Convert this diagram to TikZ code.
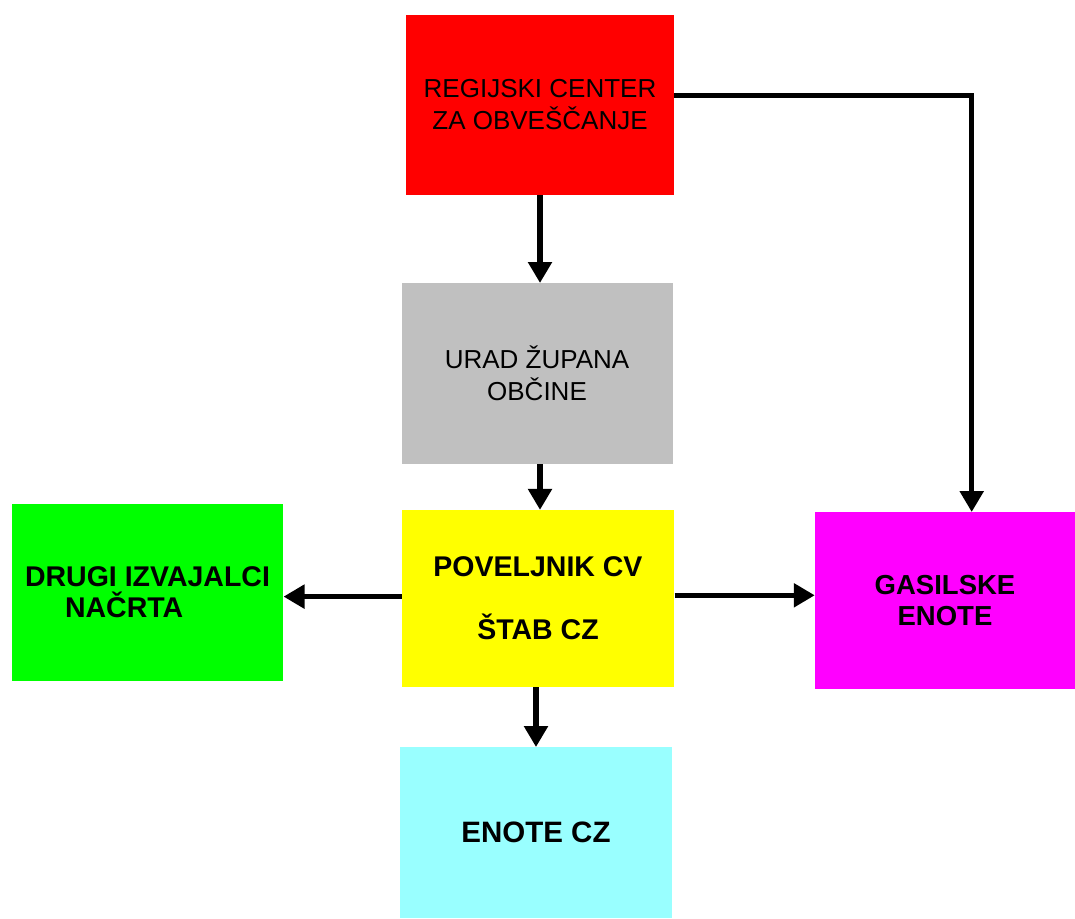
\documentclass[tikz,border=0pt]{standalone}
\usepackage{fontspec}
\setmainfont{Liberation Sans}
\usetikzlibrary{arrows.meta}
\definecolor{cred}{HTML}{FF0000}
\definecolor{cgray}{HTML}{C0C0C0}
\definecolor{cyel}{HTML}{FFFF00}
\definecolor{cgreen}{HTML}{00FF00}
\definecolor{cmag}{HTML}{FF00FF}
\definecolor{ccyan}{HTML}{99FFFF}
\begin{document}
\begin{tikzpicture}[x=1pt,y=-1pt,
  box/.style={draw=none, inner sep=0pt, align=center, text=black},
  reg/.style={font=\fontsize{26}{32}\selectfont},
  bld/.style={font=\bfseries\fontsize{28.5}{31.3}\selectfont},
  conn/.style={line width=5.5pt, -{Triangle[length=21pt,width=23pt]}}]
\useasboundingbox[fill=white] (0,0) rectangle (1075,918);
\node[box, reg, fill=cred, minimum width=268pt, minimum height=180pt] (red) at (540,105) {REGIJSKI CENTER\\ZA OBVEŠČANJE};
\node[box, reg, fill=cgray, minimum width=271pt, minimum height=181pt] (gray) at (537,373.7) {URAD ŽUPANA\\OBČINE};
\node[box, fill=cyel, minimum width=272.6pt, minimum height=177pt, font=\bfseries\fontsize{28.5}{63}\selectfont] (yel) at (538,598.6) {POVELJNIK CV\\ŠTAB CZ};
\node[box, bld, fill=cgreen, minimum width=271.6pt, minimum height=176.7pt, align=left] (green) at (147.5,592.3) {DRUGI IZVAJALCI\\\hspace*{40pt}NAČRTA};
\node[box, fill=cmag, minimum width=260pt, minimum height=176.7pt, font=\bfseries\fontsize{27.5}{31.3}\selectfont] (mag) at (945,600.6) {GASILSKE\\ENOTE};
\node[box, fill=ccyan, minimum width=272.7pt, minimum height=170.7pt, font=\bfseries\fontsize{29.5}{31.3}\selectfont] (cyan) at (536,832.6) {ENOTE CZ};
\draw[conn] (red.south) -- (red.south |- gray.north);
\draw[conn] ([xshift=3pt]gray.south) -- ([xshift=3pt]gray.south |- yel.north);
\draw[conn] ([yshift=2pt]yel.west) -- ([yshift=2pt]yel.west -| green.east);
\draw[conn] ([yshift=3.3pt]yel.east) -- ([yshift=3.3pt]yel.east -| mag.west);
\draw[conn] ([xshift=-2pt]yel.south) -- ([xshift=-2pt]yel.south |- cyan.north);
\draw[conn] ([yshift=9.3pt]red.east) -| ([xshift=26.7pt]mag.north);
\end{tikzpicture}
\end{document}
